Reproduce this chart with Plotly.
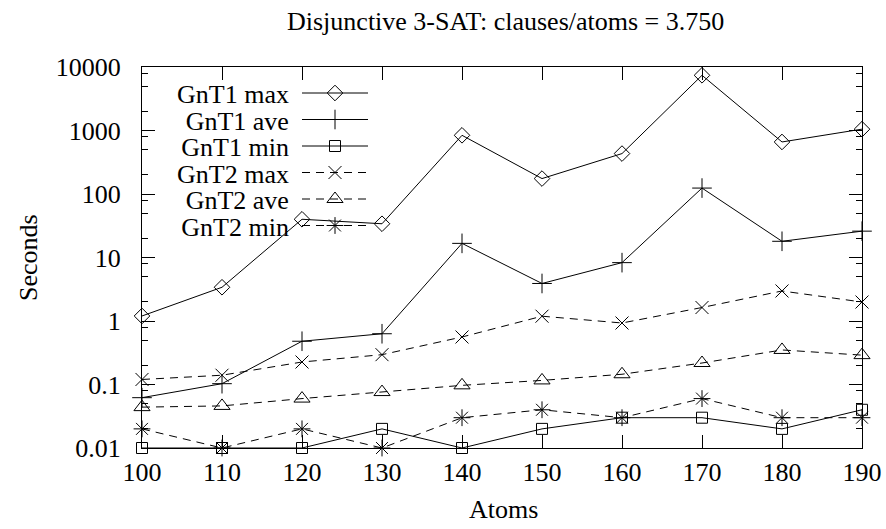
import plotly.graph_objects as go

atoms = [100, 110, 120, 130, 140, 150, 160, 170, 180, 190]
gnt1_max = [1.2, 3.4, 40, 34, 840, 175, 433, 7400, 660, 1050]
gnt1_ave = [0.062, 0.103, 0.48, 0.63, 16.7, 3.9, 8.3, 124, 18, 26]
gnt1_min = [0.01, 0.01, 0.01, 0.02, 0.01, 0.02, 0.03, 0.03, 0.02, 0.04]
gnt2_max = [0.12, 0.14, 0.226, 0.295, 0.56, 1.19, 0.93, 1.63, 2.97, 1.99]
gnt2_ave = [0.044, 0.046, 0.06, 0.076, 0.097, 0.116, 0.145, 0.218, 0.35, 0.29]
gnt2_min = [0.02, 0.01, 0.02, 0.01, 0.03, 0.04, 0.03, 0.06, 0.03, 0.03]

y_ticks = [0.01, 0.1, 1, 10, 100, 1000, 10000]
y_ticktext = ["0.01", "0.1", "1", "10", "100", "1000", "10000"]
x_ticks = atoms

series = [
    ("GnT1 max", gnt1_max, "solid", "diamond-open", 12),
    ("GnT1 ave", gnt1_ave, "solid", "cross-thin-open", 14),
    ("GnT1 min", gnt1_min, "solid", "square-open", 11),
    ("GnT2 max", gnt2_max, "dash", "x-thin-open", 13),
    ("GnT2 ave", gnt2_ave, "dash", "triangle-up-open", 14),
    ("GnT2 min", gnt2_min, "dash", "asterisk-open", 14),
]

FONT = "Liberation Serif"
FS = 26
W, H = 886, 529
L, T = 142, 67
PW, PH = 720, 381
R, B = W - L - PW, H - T - PH


def px(ix):
    return (ix - L) / PW


def py(iy):
    return (T + PH - iy) / PH


fig = go.Figure()
for name, vals, dash, sym, size in series:
    fig.add_trace(go.Scatter(
        x=atoms, y=vals, mode="lines+markers", name=name,
        line=dict(color="black", width=1, dash="8px,6px" if dash == "dash" else "solid"),
        marker=dict(symbol=sym, size=size, color="black", line=dict(color="black", width=1)),
        cliponaxis=False, showlegend=False,
    ))

# custom legend (text left, sample right) in pixel-like overlay axes
row0, rowstep = 26, 26.5
for i, (name, vals, dash, sym, size) in enumerate(series):
    yy = row0 + i * rowstep
    fig.add_trace(go.Scatter(
        x=[160, 193, 226], y=[yy, yy, yy], xaxis="x2", yaxis="y2",
        mode="lines", line=dict(color="black", width=1, dash="8px,6px" if dash == "dash" else "solid"),
        showlegend=False, hoverinfo="skip", cliponaxis=False,
    ))
    fig.add_trace(go.Scatter(
        x=[193], y=[yy], xaxis="x2", yaxis="y2", mode="markers",
        marker=dict(symbol=sym, size=size, color="black", line=dict(color="black", width=1)),
        showlegend=False, hoverinfo="skip", cliponaxis=False,
    ))

legend_text = "<br>".join(f"<span style='font-size:26px'>{s[0]}</span>" for s in series)
fig.add_annotation(x=149, y=row0 + 2.5 * rowstep + 1.5, xref="x2", yref="y2", text=legend_text,
                   showarrow=False, xanchor="right", yanchor="middle", align="right",
                   font=dict(family=FONT, size=rowstep / 1.3, color="black"))

minor_vals = []
for e in range(-2, 4):
    for m in (2, 5, 8):
        minor_vals.append(m * 10 ** e)

fig.update_layout(
    width=W, height=H, margin=dict(l=L, r=R, t=T, b=B, autoexpand=False),
    paper_bgcolor="white", plot_bgcolor="white",
    font=dict(family=FONT, size=FS, color="black"),
    hovermode=False,
    xaxis=dict(range=[100, 190], tickmode="array", tickvals=x_ticks,
               ticks="inside", ticklen=13, tickcolor="black", tickwidth=1,
               showline=True, linecolor="black", linewidth=1, mirror="ticks",
               showgrid=False, zeroline=False, ticklabelstandoff=1,
               tickfont=dict(family=FONT, size=FS)),
    yaxis=dict(type="log", range=[-2, 4], tickmode="array", tickvals=y_ticks, ticktext=y_ticktext,
               ticks="inside", ticklen=13, tickcolor="black", tickwidth=1,
               showline=True, linecolor="black", linewidth=1, mirror="ticks",
               showgrid=False, zeroline=False, ticklabelstandoff=15,
               tickfont=dict(family=FONT, size=FS),
               minor=dict(tickmode="array", tickvals=minor_vals, ticks="inside", ticklen=6,
                          tickcolor="black", tickwidth=1, showgrid=False)),
    xaxis2=dict(overlaying="x", range=[0, PW], visible=False, fixedrange=True),
    yaxis2=dict(overlaying="y", range=[PH, 0], visible=False, fixedrange=True),
)

fig.add_annotation(x=px(505), y=py(22), xref="paper", yref="paper",
                   text="Disjunctive 3-SAT: clauses/atoms = 3.750", showarrow=False,
                   xanchor="center", yanchor="middle", font=dict(family=FONT, size=FS))
fig.add_annotation(x=px(503), y=py(509), xref="paper", yref="paper",
                   text="Atoms", showarrow=False, xanchor="center", yanchor="middle",
                   font=dict(family=FONT, size=FS))
fig.add_annotation(x=px(28), y=py(258), xref="paper", yref="paper",
                   text="Seconds", showarrow=False, textangle=-90, xanchor="center", yanchor="middle",
                   font=dict(family=FONT, size=FS))

fig.write_html("out.html", config={"displayModeBar": False},
               post_script="document.body.style.margin='0';")
